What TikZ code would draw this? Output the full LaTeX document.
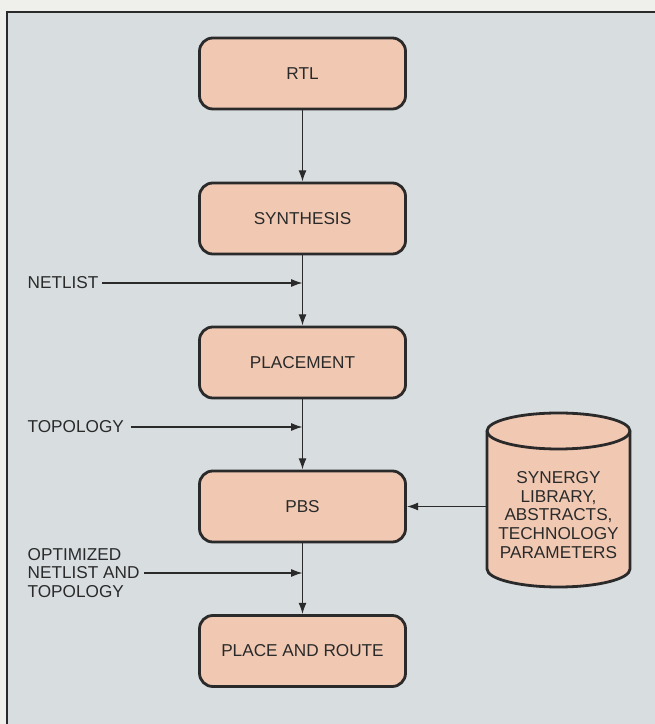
\documentclass[tikz,border=0pt]{standalone}
\usepackage{fontspec}
\setmainfont{Liberation Sans}
\usetikzlibrary{arrows.meta}

\definecolor{paper}{HTML}{EFEFEC}
\definecolor{panel}{HTML}{D8DDE0}
\definecolor{peach}{HTML}{F1C9B3}
\definecolor{ink}{HTML}{2A2A2A}

\begin{document}
\begin{tikzpicture}[x=0.75pt,y=0.75pt,>={Latex[length=8.5pt,width=6pt]},line width=1pt,draw=ink]
  \tikzstyle{stage}=[draw=ink, line width=2.1pt, rounded corners=10pt, fill=peach,
    minimum width=154.5pt, minimum height=53.25pt, font=\fontsize{12.9}{14}\selectfont, text=ink]
  \tikzstyle{input}=[inner sep=0pt, anchor=west, align=left, font=\fontsize{12.9}{14}\selectfont, text=ink]
  \tikzstyle{flow}=[->, draw=ink, line width=1pt]

  % page and panel
  \clip (0,0) rectangle (655,724);
  \fill[paper] (0,0) rectangle (655,724);
  \fill[panel] (7,-10) rectangle (670,712);
  \draw[ink, line width=1.1pt] (7,-10) -- (7,712) -- (670,712);

  % design flow
  \node[stage] (rtl) at (302.5,650.5) {RTL};
  \node[stage] (synth) at (302.5,505.5) {SYNTHESIS};
  \node[stage] (place) at (302.5,361.5) {PLACEMENT};
  \node[stage] (pbs) at (302.5,217.5) {PBS};
  \node[stage] (pnr) at (302.5,73) {PLACE AND ROUTE};

  % side inputs
  \node[input] (netlist) at (27,441) {NETLIST};
  \node[input] (topo) at (27,297) {TOPOLOGY};
  \node[input] (optnet) at (27,151) {OPTIMIZED\\NETLIST AND\\TOPOLOGY};

  % library cylinder
  \draw[ink, line width=2.1pt, fill=peach] (487,293) -- (487,155) arc (180:360:71.5 and 18)
    -- (630,293) arc (0:180:71.5 and 18) -- cycle;
  \draw[ink, line width=2.1pt] (487,293) arc (180:360:71.5 and 18);
  \coordinate (libedge) at (487,224);
  \node[align=center, font=\fontsize{12.9}{14}\selectfont, text=ink] (lib) at (558.5,209)
    {SYNERGY\\LIBRARY,\\ABSTRACTS,\\TECHNOLOGY\\PARAMETERS};

  \draw[flow] (rtl) -- (synth);
  \draw[flow] (synth) -- (place);
  \draw[flow] (place) -- (pbs);
  \draw[flow] (pbs) -- (pnr);
  \draw[flow] (netlist.east) ++(3,0) -- (netlist -| synth.south);
  \draw[flow] (topo.east) ++(6,0) -- (topo -| place.south);
  \draw[flow] (optnet.east) ++(4,0) -- (optnet -| pbs.south);
  \draw[flow] (pbs.east -| libedge) -- (pbs.east);
\end{tikzpicture}
\end{document}
